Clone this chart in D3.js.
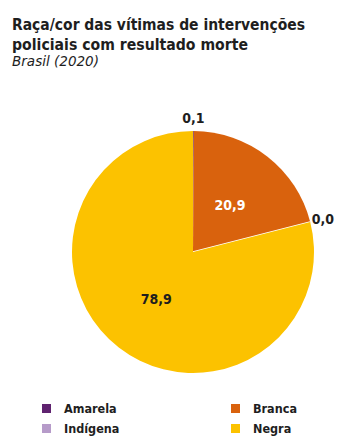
<!DOCTYPE html>
<html>
<head>
<meta charset="utf-8">
<script src="https://cdn.jsdelivr.net/npm/d3@7"></script>
<style>
  body { margin: 0; background: #fff; }
  text { font-family: "DejaVu Sans Condensed", "Liberation Sans", sans-serif; }
</style>
</head>
<body>
<div id="chart"></div>
<script>
// data
var categories = ["Amarela", "Branca", "Indígena", "Negra"];
var values = [0.1, 20.9, 0.0, 78.9];
var labels = ["0,1", "20,9", "0,0", "78,9"];
var legendOrder = ["Amarela", "Indígena", "Branca", "Negra"];

var width = 340, height = 439;

var svg = d3.select("#chart").append("svg")
  .attr("width", width)
  .attr("height", height);

var color = d3.scaleOrdinal()
  .domain(categories)
  .range(["#5f226f", "#d9620d", "#b69bc9", "#fcc200"]);

// title (condensed face fitted to the original width)
svg.append("text")
  .attr("x", 12).attr("y", 30)
  .attr("fill", "#1e1e1e")
  .attr("textLength", 293).attr("lengthAdjust", "spacingAndGlyphs")
  .style("font-size", "16.5px").style("font-weight", "bold")
  .text("Raça/cor das vítimas de intervenções");
svg.append("text")
  .attr("x", 12).attr("y", 50)
  .attr("fill", "#1e1e1e")
  .attr("textLength", 236).attr("lengthAdjust", "spacingAndGlyphs")
  .style("font-size", "16.5px").style("font-weight", "bold")
  .text("policiais com resultado morte");
svg.append("text")
  .attr("x", 12).attr("y", 66)
  .attr("fill", "#1e1e1e")
  .attr("textLength", 87).attr("lengthAdjust", "spacingAndGlyphs")
  .style("font-size", "14px").style("font-style", "italic")
  .text("Brasil (2020)");

// pie
var cx = 193, cy = 252, radius = 121;
var g = svg.append("g")
  .attr("transform", "translate(" + cx + "," + cy + ")");

var pie = d3.pie().sort(null).value(function(d) { return d.value; });
var data = categories.map(function(c, i) {
  return { key: c, value: values[i], label: labels[i] };
});
var arcs = pie(data);

var arc = d3.arc().innerRadius(0).outerRadius(radius);
var inner = d3.arc().innerRadius(60).outerRadius(60);
var outer = d3.arc().innerRadius(134).outerRadius(134);

g.selectAll(".slice")
  .data(arcs)
  .enter()
  .append("path")
  .attr("class", "slice")
  .attr("d", arc)
  .attr("fill", function(d) { return color(d.data.key); })
  .attr("stroke", function(d) { return d.data.value === 0 ? "#fff" : "none"; })
  .attr("stroke-width", 1.5);

g.selectAll(".lbl")
  .data(arcs)
  .enter()
  .append("text")
  .attr("class", "lbl")
  .attr("transform", function(d) {
    var big = d.data.value > 5;
    var c = big ? inner.centroid(d) : outer.centroid(d);
    return "translate(" + c[0] + "," + (c[1] + 5) + ")";
  })
  .attr("text-anchor", "middle")
  .attr("fill", function(d) { return d.data.key === "Branca" ? "#fff" : "#1e1e1e"; })
  .style("font-size", "14px").style("font-weight", "bold")
  .text(function(d) { return d.data.label; });

// legend
var legX = d3.scalePoint().domain([0, 1]).range([42, 231]);
var legY = d3.scalePoint().domain([0, 1]).range([404, 424]);

var leg = svg.selectAll(".leg")
  .data(legendOrder)
  .enter()
  .append("g")
  .attr("class", "leg")
  .attr("transform", function(d, i) {
    return "translate(" + legX(Math.floor(i / 2)) + "," + legY(i % 2) + ")";
  });

leg.append("rect")
  .attr("width", 9).attr("height", 9)
  .attr("fill", function(d) { return color(d); });

leg.append("text")
  .attr("x", 22).attr("y", 9)
  .attr("fill", "#1e1e1e")
  .style("font-size", "12.5px").style("font-weight", "bold")
  .text(function(d) { return d; });
</script>
</body>
</html>
